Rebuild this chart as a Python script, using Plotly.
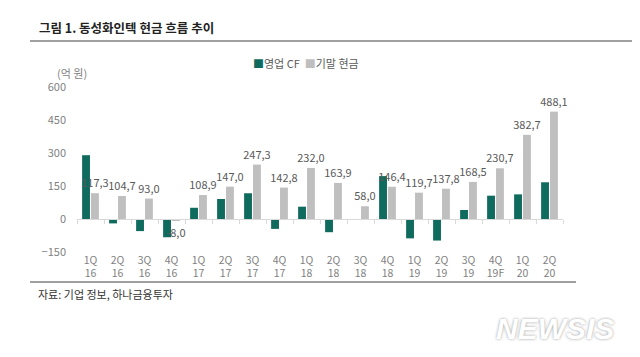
import plotly.graph_objects as go

categories = ["1Q<br>16", "2Q<br>16", "3Q<br>16", "4Q<br>16", "1Q<br>17", "2Q<br>17", "3Q<br>17", "4Q<br>17",
              "1Q<br>18", "2Q<br>18", "3Q<br>18", "4Q<br>18", "1Q<br>19", "2Q<br>19", "3Q<br>19", "4Q<br>19F",
              "1Q<br>20", "2Q<br>20"]
op_cf = [290, -20, -55, -83, 51, 91, 117, -45, 56, -60, -4, 195, -88, -98, 41, 106, 112, 167]
cash = [117.3, 104.7, 93.0, -8.0, 108.9, 147.0, 247.3, 142.8, 232.0, 163.9, 58.0, 146.4, 119.7, 137.8,
        168.5, 230.7, 382.7, 488.1]
cash_labels = [f"{v:.1f}".replace(".", ",") for v in cash]
y_ticks = [-150, 0, 150, 300, 450, 600]

GREEN = "#0f6b5d"
GRAY = "#bfbfbf"
FONT = "Noto Sans CJK KR"

# the page body adds an 8px offset; work in reference pixels and shift
OFF = 8
W, H = 640 - OFF, 357 - OFF
L, R, T, B = 77, 563, 87, 252  # plot area in reference pixels


def px(x):
    return (x - L) / (R - L)


def py(y):
    return (B - y) / (B - T)


xr = [-0.5, len(categories) - 0.5]

fig = go.Figure()
fig.add_trace(go.Bar(x=categories, y=op_cf, name="영업 CF", marker_color=GREEN, marker_line_width=0))
fig.add_trace(go.Bar(x=categories, y=cash, name="기말 현금", marker_color=GRAY, marker_line_width=0,
                     text=cash_labels, textposition="outside", constraintext="none", cliponaxis=False,
                     textfont=dict(size=11, color="#595959", family=FONT)))
fig.add_trace(go.Scatter(x=categories, y=[None] * len(categories), xaxis="x2", showlegend=False,
                         hoverinfo="skip"))

fig.update_layout(
    width=W, height=H,
    margin=dict(l=L - OFF, r=640 - R, t=T - OFF, b=357 - B),
    paper_bgcolor="white", plot_bgcolor="white",
    barmode="group", bargap=0.34, bargroupgap=0.12,
    showlegend=False,
    font=dict(family=FONT, size=11, color="#7f7f7f"),
    xaxis=dict(type="category", range=xr, autorange=False, showline=False, ticks="", showgrid=False,
               zeroline=False, tickfont=dict(size=10.5, color="#7f7f7f")),
    xaxis2=dict(type="category", overlaying="x", range=xr, autorange=False, anchor="free",
                position=(0 - y_ticks[0]) / (y_ticks[-1] - y_ticks[0]),
                showline=True, linecolor="#d9d9d9", linewidth=1, ticks="outside", tickson="boundaries",
                ticklen=4, tickcolor="#d9d9d9", showticklabels=False, showgrid=False, zeroline=False),
    yaxis=dict(range=[y_ticks[0], y_ticks[-1]], tickvals=y_ticks, showgrid=False,
               zeroline=False, showline=False, ticks="", ticklabelstandoff=10,
               tickfont=dict(size=11, color="#7f7f7f")),
)

fig.add_shape(type="line", xref="paper", yref="paper", x0=px(30), x1=px(640), y0=py(41), y1=py(41),
              line=dict(color="#a0a0a0", width=2))
fig.add_shape(type="line", xref="paper", yref="paper", x0=px(30), x1=px(576), y0=py(282), y1=py(282),
              line=dict(color="#a0a0a0", width=2))

fig.add_annotation(xref="paper", yref="paper", x=px(37), y=py(27), xanchor="left", yanchor="middle",
                   text="<b>그림 1. 동성화인텍 현금 흐름 추이</b>", showarrow=False,
                   font=dict(size=12.5, color="#222222", family=FONT))
fig.add_annotation(xref="paper", yref="paper", x=px(55), y=py(73), xanchor="left", yanchor="middle",
                   text="(억 원)", showarrow=False, font=dict(size=11, color="#7f7f7f", family=FONT))
fig.add_annotation(xref="paper", yref="paper", x=px(251), y=py(63), xanchor="left", yanchor="middle",
                   text=f"<span style='color:{GREEN}'>■</span>영업 CF  <span style='color:{GRAY}'>■</span>기말 현금",
                   showarrow=False, font=dict(size=11, color="#595959", family=FONT))
fig.add_annotation(xref="paper", yref="paper", x=px(36), y=py(294), xanchor="left", yanchor="middle",
                   text="자료: 기업 정보, 하나금융투자", showarrow=False,
                   font=dict(size=11, color="#333333", family=FONT))
fig.add_annotation(xref="paper", yref="paper", x=px(616), y=py(328), xanchor="right", yanchor="middle",
                   text="<b><i>NEWSIS</i></b>", showarrow=False,
                   font=dict(size=30, color="#ffffff", family="Liberation Sans",
                             shadow="0px 0px 3px #9a9a9a"))

fig.write_html("out.html")
